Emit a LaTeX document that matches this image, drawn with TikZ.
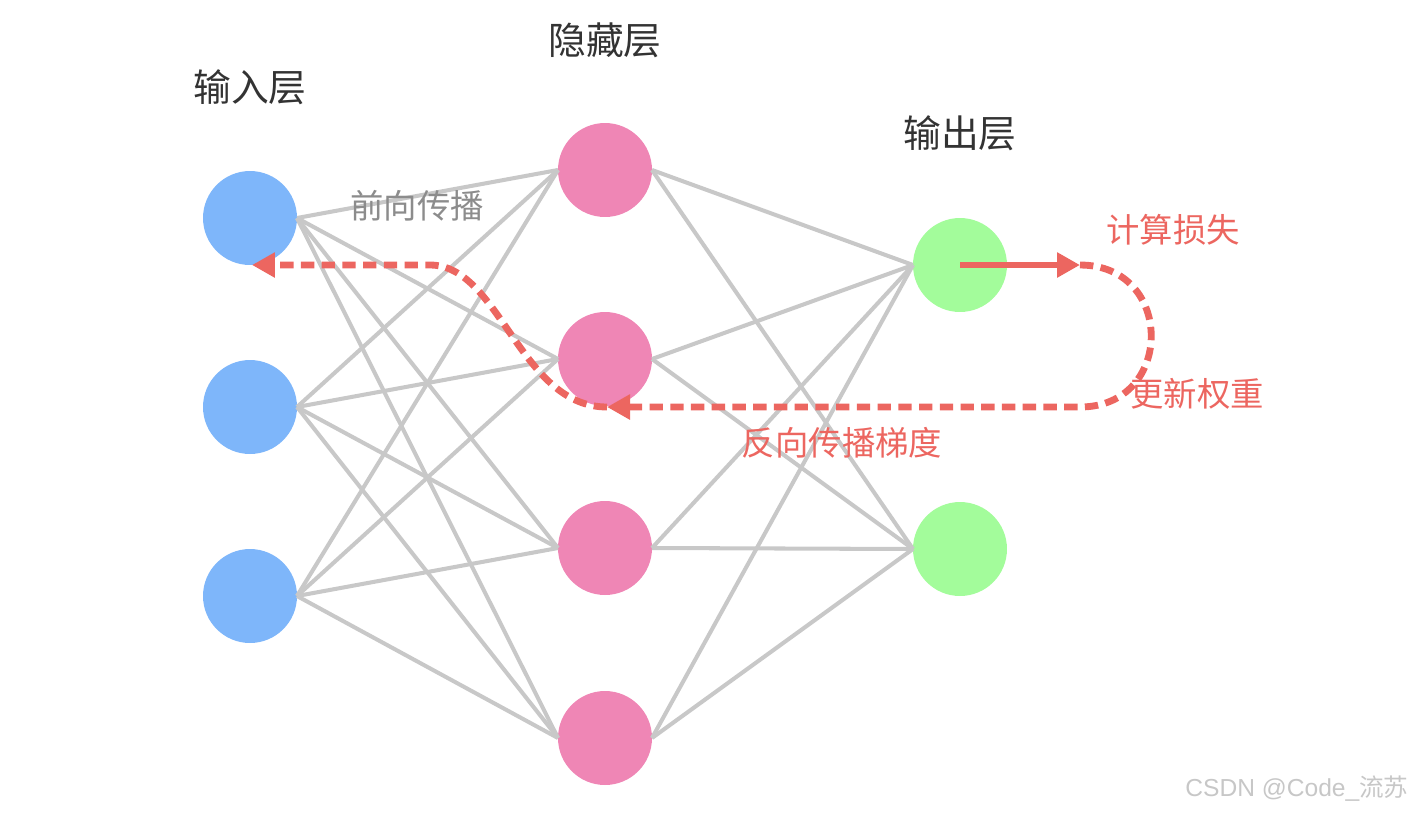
\documentclass[tikz,border=0pt]{standalone}
\usepackage{fontspec}
\setmainfont{Liberation Sans}
\newfontfamily\cjk{Noto Sans CJK SC}
\usetikzlibrary{arrows.meta}

\definecolor{inblue}{RGB}{126,182,250}
\definecolor{hidpink}{RGB}{239,134,181}
\definecolor{outgreen}{RGB}{163,252,155}
\definecolor{lossred}{RGB}{236,102,96}
\definecolor{linkgray}{RGB}{200,200,200}
\definecolor{titlegray}{RGB}{51,51,51}

\begin{document}
\begin{tikzpicture}[x=0.02cm,y=-0.02cm,
    neuron/.style={circle,minimum size=1.88cm,inner sep=0pt,outer sep=0pt},
    link/.style={draw=linkgray,line width=2.3pt},
    title/.style={text=titlegray,font=\cjk\fontsize{21.5}{26}\selectfont},
    note/.style={text=lossred,font=\cjk\fontsize{19}{23}\selectfont},
    flow/.style={draw=lossred,line width=3.9pt,-{Triangle[length=0.46cm,width=0.48cm]}},
    flowback/.style={flow,dash pattern=on 7.6pt off 4.2pt}]
    \useasboundingbox (0,0) rectangle (1418,816);

    \node[neuron,fill=inblue] (i1) at (250, 218) {};
    \node[neuron,fill=inblue] (i2) at (250, 407) {};
    \node[neuron,fill=inblue] (i3) at (250, 596) {};
    \node[neuron,fill=hidpink] (h1) at (605, 170) {};
    \node[neuron,fill=hidpink] (h2) at (605, 359) {};
    \node[neuron,fill=hidpink] (h3) at (605, 548) {};
    \node[neuron,fill=hidpink] (h4) at (605, 738) {};
    \node[neuron,fill=outgreen] (o1) at (960, 265) {};
    \node[neuron,fill=outgreen] (o2) at (960, 549) {};

    \node[title] (tin) at (250, 87) {输入层};
    \node[title] (thid) at (605, 40) {隐藏层};
    \node[title] (tout) at (960, 133) {输出层};

    \path[-] (i1.east) edge[link] (h1.west);
    \path[-] (i1.east) edge[link] (h2.west);
    \path[-] (i1.east) edge[link] (h3.west);
    \path[-] (i1.east) edge[link] (h4.west);
    \path[-] (i2.east) edge[link] (h1.west);
    \path[-] (i2.east) edge[link] (h2.west);
    \path[-] (i2.east) edge[link] (h3.west);
    \path[-] (i2.east) edge[link] (h4.west);
    \path[-] (i3.east) edge[link] (h1.west);
    \path[-] (i3.east) edge[link] (h2.west);
    \path[-] (i3.east) edge[link] (h3.west);
    \path[-] (i3.east) edge[link] (h4.west);
    \path[-] (h1.east) edge[link] (o1.west);
    \path[-] (h1.east) edge[link] (o2.west);
    \path[-] (h2.east) edge[link] (o1.west);
    \path[-] (h2.east) edge[link] (o2.west);
    \path[-] (h3.east) edge[link] (o1.west);
    \path[-] (h3.east) edge[link] (o2.west);
    \path[-] (h4.east) edge[link] (o1.west);
    \path[-] (h4.east) edge[link] (o2.west);

    \node[text=gray!90,font=\cjk\fontsize{19}{23}\selectfont] (tfwd) at (417, 206) {前向传播};

    \coordinate (lossend) at (1080, 265);
    \coordinate (updend) at (1080, 407);
    \coordinate (gradtip) at (607, 407);
    \coordinate (intip) at (252, 265);

    \draw[flow] (o1.center) -- (lossend);
    \draw[flowback] (lossend) .. controls (1175, 265) and (1175, 407) .. (updend) -- (gradtip);
    \draw[flowback] (gradtip) .. controls (520, 407) and (500, 265) .. (430, 265) -- (intip);

    \node[note] (tloss) at (1173, 230) {计算损失};
    \node[note] (tupd) at (1197, 394) {更新权重};
    \node[note] (tgrad) at (842, 443) {反向传播梯度};

    \node[text=black!22,font=\fontsize{14}{17}\selectfont] (mark) at (1297, 789) {CSDN @Code\_{\cjk 流苏}};
  \end{tikzpicture}
\end{document}
